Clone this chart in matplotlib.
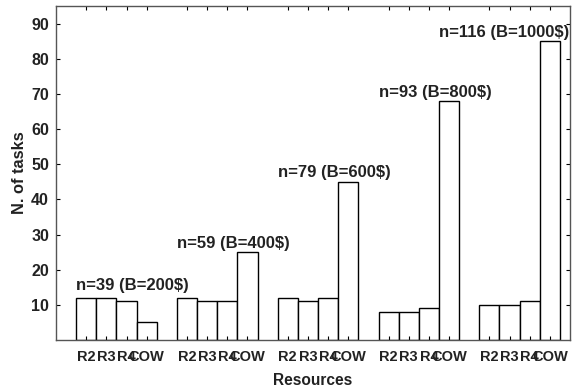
import numpy as np
import matplotlib
matplotlib.use("Agg")
import matplotlib.pyplot as plt

plt.rcParams['font.family'] = ['Liberation Sans', 'DejaVu Sans']
plt.rcParams['font.weight'] = 'bold'

# data
resources = ['R2', 'R3', 'R4', 'COW']
groups = ['n=39 (B=200$)', 'n=59 (B=400$)', 'n=79 (B=600$)', 'n=93 (B=800$)', 'n=116 (B=1000$)']
r2 = [12, 12, 12, 8, 10]
r3 = [12, 11, 11, 8, 10]
r4 = [11, 11, 12, 9, 11]
cow = [5, 25, 45, 68, 85]

fig = plt.figure(figsize=(5.81, 3.92), dpi=100)
ax = fig.add_axes([56 / 581, 1 - 340 / 392, 514 / 581, 334 / 392])

series = [r2, r3, r4, cow]
xs = []
labels = []
for g in range(len(groups)):
    base = g * (len(resources) + 1) + 1
    for k in range(len(resources)):
        x = base + k
        ax.bar(x, series[k][g], width=1.0, facecolor='white', edgecolor='black', linewidth=1.0)
        xs.append(x)
        labels.append(resources[k])
    top = max(s[g] for s in series)
    # group annotation at left edge of group (last one shifted to fit)
    lx = base - 0.5 if g < len(groups) - 1 else base - 2.5
    pad = 1.5 if g == 0 else 0.4
    ax.text(lx, top + pad, groups[g], ha='left', va='bottom', fontsize=12, fontweight='bold',
            color='#222222')

ax.set_xlim(-0.5, 25)
ax.set_ylim(0, 95)
ax.set_yticks(range(10, 91, 10))
ax.set_xticks(xs)
ax.set_xticklabels(labels, fontsize=10.5, fontweight='bold', color='#222222')
ax.tick_params(axis='both', direction='in', length=3, width=0.8, top=True, right=True)
ax.tick_params(axis='y', labelsize=11.5, pad=5, labelcolor='#222222')
ax.tick_params(axis='x', pad=7)
for s in ax.spines.values():
    s.set_color('#555555')
    s.set_linewidth(1.0)

ax.set_xlabel('Resources', fontsize=11.2, fontweight='bold', labelpad=7, color='#222222')
ax.set_ylabel('N. of tasks', fontsize=11.8, fontweight='bold', labelpad=3, color='#222222')

fig.savefig('out.png', dpi=100)
